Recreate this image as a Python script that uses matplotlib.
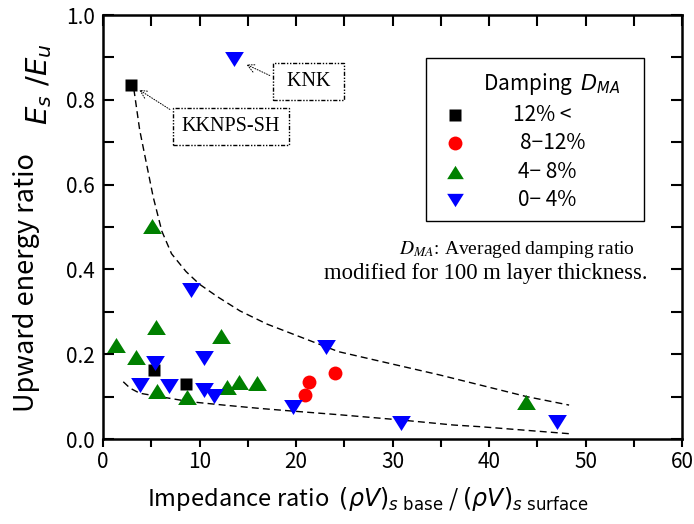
import matplotlib
matplotlib.use("Agg")
import matplotlib.pyplot as plt
import matplotlib.lines as mlines
from matplotlib.patches import Rectangle
import numpy as np

plt.rcParams['font.family'] = ['Noto Sans CJK JP', 'DejaVu Sans']

# ---- data ----
sq_x = [2.9, 5.3, 8.6]
sq_y = [0.836, 0.163, 0.129]

ci_x = [21.3, 20.9, 24.0]
ci_y = [0.135, 0.103, 0.156]

tu_x = [1.35, 3.4, 5.5, 5.55, 8.7, 12.2, 12.8, 14.1, 16.0, 5.1, 43.8]
tu_y = [0.222, 0.194, 0.265, 0.113, 0.098, 0.243, 0.123, 0.135, 0.133, 0.503, 0.088]

td_x = [13.6, 9.1, 5.4, 3.8, 6.8, 10.5, 10.5, 11.5, 19.7, 23.1, 30.85, 47.05]
td_y = [0.896, 0.351, 0.180, 0.127, 0.125, 0.192, 0.116, 0.101, 0.075, 0.216, 0.038, 0.041]

up_x = [3.2, 3.8, 4.5, 5.2, 6.1, 7.1, 8.6, 10.0, 11.9, 14.2, 17.0, 24.4, 34.9, 43.9, 48.3]
up_y = [0.825, 0.729, 0.650, 0.571, 0.490, 0.437, 0.395, 0.365, 0.335, 0.302, 0.271, 0.206, 0.151, 0.100, 0.080]

lo_x = [2.1, 2.8, 3.8, 5.6, 9.0, 12.5, 16.3, 19.0, 24.6, 30.8, 36.3, 39.1, 48.6]
lo_y = [0.135, 0.120, 0.108, 0.101, 0.088, 0.080, 0.072, 0.067, 0.057, 0.045, 0.033, 0.029, 0.012]

legend_labels = ["12% <", "8\u221212%", "4\u2212 8%", "0\u2212 4%"]
x_ticks = [0, 10, 20, 30, 40, 50, 60]
y_ticks = [0.0, 0.2, 0.4, 0.6, 0.8, 1.0]

# ---- figure ----
W, H = 694, 524
AX_L, AX_R, AX_T, AX_B = 103, 682, 15, 439
fig = plt.figure(figsize=(W/100, H/100), dpi=100)
ax = fig.add_axes([AX_L/W, 1-AX_B/H, (AX_R-AX_L)/W, (AX_B-AX_T)/H])

def axc(px, py):
    return ((px-AX_L)/(AX_R-AX_L), (AX_B-py)/(AX_B-AX_T))

tri_up = [(-1, -0.8), (1, -0.8), (0, 0.8)]
tri_dn = [(-1, 0.8), (1, 0.8), (0, -0.8)]
styles = [dict(marker='s', ms=9.3, color='black'),
          dict(marker='o', ms=10, color='#FF0000'),
          dict(marker=tri_up, ms=13.5, color='#008000'),
          dict(marker=tri_dn, ms=13.5, color='#0000FF')]
leg_ms = [8.8, 10.0, 12.0, 12.0]

ax.plot(up_x, up_y, color='black', lw=1.0, dashes=(5, 3), zorder=1)
ax.plot(lo_x, lo_y, color='black', lw=1.0, dashes=(5, 3), zorder=1)

for (xs, ys), st in zip([(sq_x, sq_y), (ci_x, ci_y), (tu_x, tu_y), (td_x, td_y)], styles):
    ax.plot(xs, ys, ls='none', mec='none', zorder=3, **st)

ax.set_xlim(0, 60)
ax.set_ylim(0, 1.0)
ax.set_xticks(x_ticks)
ax.set_xticks(np.arange(0, 61, 5), minor=True)
ax.set_yticks(y_ticks)
ax.set_yticks(np.arange(0, 1.01, 0.1), minor=True)
ax.set_xticklabels([str(v) for v in x_ticks])
ax.set_yticklabels([f"{v:.1f}" for v in y_ticks])

for s in ax.spines.values():
    s.set_linewidth(1.8)
ax.tick_params(axis='both', which='both', width=1.5, labelsize=15)
ax.tick_params(axis='x', which='both', bottom=True, top=True, pad=5)
ax.tick_params(axis='y', which='both', direction='in', length=8, left=True, right=True, pad=6)
for t in ax.xaxis.get_major_ticks() + ax.xaxis.get_minor_ticks():
    t.tick2line.set_marker(mlines.TICKDOWN)
    t.tick2line.set_markersize(8)
    t.tick1line.set_marker(mlines.TICKDOWN)
    t.tick1line.set_markersize(6)

# axis labels
fig.text(368/W, 1-499/H,
         r"Impedance ratio  $(\rho V)_{s\ \mathrm{base}}$ / $(\rho V)_{s\ \mathrm{surface}}$",
         ha='center', va='center', fontsize=17, math_fontfamily='dejavusans')
fig.text(27/W, 1-283/H, "Upward energy ratio", rotation=90,
         ha='center', va='center', fontsize=19.5)
fig.text(39/W, 1-84/H, r"$E_s\ /E_u$", rotation=90,
         ha='center', va='center', fontsize=21, math_fontfamily='dejavusans')

# legend (drawn by hand)
x0, y0 = axc(426, 221)
x1, y1 = axc(644, 58)
ax.add_patch(Rectangle((x0, y0), x1-x0, y1-y0, transform=ax.transAxes,
                       fc='white', ec='black', lw=1.0, zorder=4))
tx, ty = axc(483, 84)
ax.text(tx, ty, r"Damping  $D_{MA}$", transform=ax.transAxes, ha='left', va='center',
        fontsize=15, math_fontfamily='dejavusans', zorder=5)
row_y = [115, 143, 172, 200]
lab_x = [513, 520, 518, 518]
for st, ms, lab, ry, lx in zip(styles, leg_ms, legend_labels, row_y, lab_x):
    mx, my = axc(455, ry)
    s2 = dict(st)
    s2['ms'] = ms
    ax.plot([mx], [my], ls='none', mec='none', transform=ax.transAxes, zorder=5,
            clip_on=False, **s2)
    lxx, _ = axc(lx, ry)
    ax.text(lxx, my, lab, transform=ax.transAxes, ha='left', va='center',
            fontsize=15, zorder=5)

# annotations
box_ls = (0, (3, 1.2, 1, 1.2, 1, 1.2))
ax.annotate(" KNK ", xy=(14.6, 0.886), xytext=(21.3, 0.844),
            ha='center', va='center', fontsize=14.5, family='Liberation Serif',
            bbox=dict(boxstyle='square,pad=0.45', fc='white', ec='black', ls=box_ls, lw=1),
            arrowprops=dict(arrowstyle='->', lw=0.7, ls=':', color='black', relpos=(0, 0.5)))
ax.annotate("KKNPS-SH", xy=(3.5, 0.827), xytext=(13.26, 0.737),
            ha='center', va='center', fontsize=14.5, family='Liberation Serif',
            bbox=dict(boxstyle='square,pad=0.45', fc='white', ec='black', ls=box_ls, lw=1),
            arrowprops=dict(arrowstyle='->', lw=0.7, ls=':', color='black', relpos=(0, 1)))

n1x, n1y = axc(517, 249)
ax.text(n1x, n1y, "$D_{MA}$: Averaged damping ratio",
        transform=ax.transAxes, ha='center', va='center', fontsize=14,
        family='Liberation Serif', math_fontfamily='stix')
n2x, n2y = axc(486, 273)
ax.text(n2x, n2y, "modified for 100 m layer thickness.",
        transform=ax.transAxes, ha='center', va='center', fontsize=16.3,
        family='Liberation Serif')

fig.savefig("out.png", dpi=100)
